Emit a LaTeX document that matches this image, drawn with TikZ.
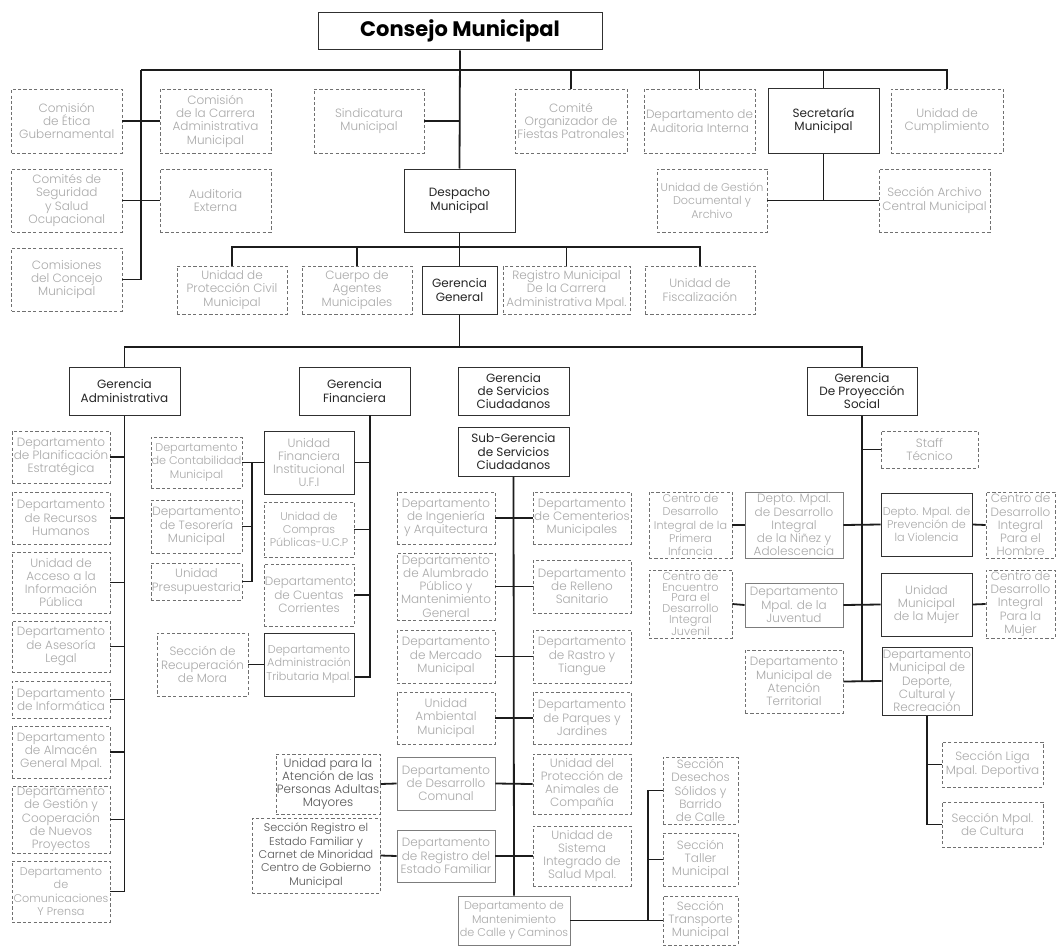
\documentclass[tikz,border=0pt]{standalone}
\usepackage{fontspec}
\setmainfont{Poppins}
\IfFontExistsTF{Poppins Light}{\newfontfamily\lightfont{Poppins Light}}{\newfontfamily\lightfont{Poppins}}
\newfontfamily\titlefont{Poppins}

\definecolor{lighttext}{HTML}{A9A9A9}
\definecolor{midtext}{HTML}{555555}
\definecolor{darktext}{HTML}{262626}
\definecolor{dashgray}{HTML}{707070}
\definecolor{boxgray}{HTML}{7C7C7C}
\definecolor{boxdark}{HTML}{303030}
\definecolor{linecol}{HTML}{1C1C1C}

\tikzset{
  nodebase/.style={inner sep=0pt, align=center, font=\lightfont\fontsize{12}{13.3}\selectfont},
  dbox/.style={nodebase, draw=dashgray, dash pattern=on 3.2pt off 2.2pt, line width=0.8pt, text=lighttext},
  dboxm/.style={dbox, text=midtext},
  sbox/.style={nodebase, draw=boxgray, line width=0.9pt, text=lighttext},
  kbox/.style={nodebase, draw=boxdark, line width=1pt, text=lighttext},
  hbox/.style={nodebase, draw=boxdark, line width=1pt, text=darktext, font=\fontsize{12}{13.3}\selectfont},
  tight/.style={font=\lightfont\fontsize{11.3}{10.6}\selectfont},
  small/.style={font=\lightfont\fontsize{11.2}{13.3}\selectfont},
  link/.style={draw=linecol, line width=1.8pt},
}

% box from its corners: style, name, x1, y1, x2, y2, text
\newcommand\bx[7]{%
  \node[#1, minimum width={#5-#3}, minimum height={#6-#4}] (#2)
    at ({(#3+#5)/2},{(#4+#6)/2}) {#7};}

\begin{document}
\begin{tikzpicture}[x=1pt, y=-1pt]
\fill[white] (0,0) rectangle (1057,947);
\useasboundingbox (0,0) rectangle (1057,947);

% ---------- council level ----------
\node[draw=boxdark, line width=1pt, inner sep=0pt, minimum width=284, minimum height=37.5,
      font=\titlefont\bfseries\fontsize{21}{24}\selectfont, text=black]
      (consejo) at (460,31.25) {Consejo Municipal};

\bx{dbox}{etica}{11.5}{89}{122}{153}{Comisión\\de Ética\\Gubernamental}
\bx{dbox}{carrera}{160}{89}{271}{153}{Comisión\\de la Carrera\\Administrativa\\Municipal}
\bx{dbox}{comites}{11.5}{169}{122}{232}{Comités de\\Seguridad\\y Salud\\Ocupacional}
\bx{dbox}{auditext}{160}{169}{271}{232}{Auditoria\\Externa}
\bx{dbox}{comisiones}{11.5}{248}{122}{311}{Comisiones\\del Concejo\\Municipal}
\bx{dbox}{sindicatura}{314}{89}{424}{153}{Sindicatura\\Municipal}
\bx{dbox}{comite}{515}{89}{627}{153}{Comité\\Organizador de\\Fiestas Patronales}
\bx{dbox}{auditint}{644}{89}{755}{153}{Departamento de\\Auditoria Interna}
\bx{hbox}{secretaria}{768}{89}{879}{153}{Secretaría\\Municipal}
\bx{dbox}{cumpl}{891}{89}{1003}{153}{Unidad de\\Cumplimiento}
\bx{dbox,small}{gestion}{657}{169}{767}{232}{Unidad de Gestión\\Documental y\\Archivo}
\bx{dbox}{archivo}{879}{169}{990}{232}{Sección Archivo\\Central Municipal}
\bx{hbox}{despacho}{404}{169}{515}{232}{Despacho\\Municipal}

\coordinate (busL) at (141,70);
\draw[link] (consejo.south) -- (despacho.north);
\draw[link] (busL) -- (cumpl.north |- busL) -- (cumpl.north);
\draw[link] (comite.north |- busL) -- (comite.north);
\draw[link] (auditint.north |- busL) -- (auditint.north);
\draw[link] (secretaria.north |- busL) -- (secretaria.north);
\draw[link] (busL) |- (comisiones.east);
\draw[link] (etica.east) -- (carrera.west);
\draw[link] (comites.east) -- (auditext.west);
\draw[link] (sindicatura.east) -- (sindicatura.east -| despacho.north);
\draw[link] (secretaria.south) -- (secretaria.south |- gestion.east);
\draw[link] (gestion.east) -- (archivo.west);

% ---------- office of the mayor ----------
\bx{dbox}{pcivil}{177}{266}{287}{314}{Unidad de\\Protección Civil\\Municipal}
\bx{dbox}{cuerpo}{302}{266}{412}{314}{Cuerpo de\\Agentes\\Municipales}
\bx{hbox}{gg}{422}{266}{497}{314}{Gerencia\\General}
\bx{dbox}{registro}{503}{266}{630}{314}{Registro Municipal\\De la Carrera\\Administrativa Mpal.}
\bx{dbox}{fiscal}{645}{266}{755}{314}{Unidad de\\Fiscalización}

\coordinate (dbus) at (459.5,247);
\draw[link] (despacho.south) -- (gg.north);
\draw[link] (pcivil.north) -- (pcivil.north |- dbus) -- (fiscal.north |- dbus) -- (fiscal.north);
\draw[link] (cuerpo.north |- dbus) -- (cuerpo.north);
\draw[link] (registro.north |- dbus) -- (registro.north);

% ---------- management level ----------
\bx{hbox}{gadmin}{69}{367}{180}{415}{Gerencia\\Administrativa}
\bx{hbox}{gfin}{299}{367}{410}{415}{Gerencia\\Financiera}
\bx{hbox}{gserv}{458}{367}{569}{415}{Gerencia\\de Servicios\\Ciudadanos}
\bx{hbox}{gproy}{807}{367}{917}{415}{Gerencia\\De Proyección\\Social}
\bx{hbox}{subg}{458}{427}{569}{476}{Sub-Gerencia\\de Servicios\\Ciudadanos}

\coordinate (gbus) at (459.5,347);
\draw[link] (gg.south) -- (gbus);
\draw[link] (gadmin.north) -- (gadmin.north |- gbus) -- (gproy.north |- gbus) -- (gproy.north);

% ---------- administrative management ----------
\bx{dbox}{a1}{12}{431}{110}{483}{Departamento\\de Planificación\\Estratégica}
\bx{dbox}{a2}{12}{492}{110}{544}{Departamento\\de Recursos\\Humanos}
\bx{dbox}{a3}{12}{552}{110}{613}{Unidad de\\Acceso a la\\Información\\Pública}
\bx{dbox}{a4}{12}{621}{110}{672}{Departamento\\de Asesoría\\Legal}
\bx{dbox}{a5}{12}{681}{110}{718}{Departamento\\de Informática}
\bx{dbox}{a6}{12}{726}{110}{778}{Departamento\\de Almacén\\General Mpal.}
\bx{dbox}{a7}{12}{786}{110}{853}{Departamento\\de Gestión y\\Cooperación\\de Nuevos\\Proyectos}
\bx{dbox,small}{a8}{12}{861}{110}{922}{Departamento\\de\\Comunicaciones\\Y Prensa}

\draw[link] (gadmin.south) |- (a8.east);
\foreach \n in {a1,a2,a3,a4,a5,a6,a7}
  \draw[link] (\n.east) -- (\n.east -| gadmin.south);

% ---------- financial management ----------
\bx{kbox}{ufi}{264}{431}{354}{494}{Unidad\\Financiera\\Institucional\\U.F.I}
\bx{dbox,small}{ucp}{264}{502}{354}{557}{Unidad de\\Compras\\Públicas-U.C.P}
\bx{dbox}{cuentas}{264}{564}{354}{626}{Departamento\\de Cuentas\\Corrientes}
\bx{kbox,small}{tribut}{264}{633}{354}{696}{Departamento\\Administración\\Tributaria Mpal.}
\bx{dbox,small}{contab}{151}{437}{242}{488}{Departamento\\de Contabilidad\\Municipal}
\bx{dbox}{tesor}{151}{500}{242}{553}{Departamento\\de Tesorería\\Municipal}
\bx{dbox}{presup}{151}{563}{242}{600}{Unidad\\Presupuestaria}
\bx{dbox}{mora}{157}{633}{248}{696}{Sección de\\Recuperación\\de Mora}

\coordinate (ftop) at (370,415);
\coordinate (cspine) at (252,463);
\draw[link] (ftop) |- ([yshift=-12.5pt]tribut.east);
\foreach \n in {ufi,ucp,cuentas}
  \draw[link] (\n.east) -- (\n.east -| ftop);
\draw[link] (contab.east) -- (ufi.west);
\draw[link] (cspine) |- (presup.east);
\draw[link] (tesor.east) -- (tesor.east -| cspine);
\draw[link] (mora.east) -- (tribut.west);

% ---------- citizen services ----------
\bx{dbox}{s1L}{397}{492}{495}{544}{Departamento\\de Ingeniería\\y Arquitectura}
\bx{dbox}{s1R}{533}{492}{631}{544}{Departamento\\de Cementerios\\Municipales}
\bx{dbox}{s2L}{397}{553}{495}{620}{Departamento\\de Alumbrado\\Público y\\Mantenimiento\\General}
\bx{dbox}{s2R}{533}{560}{631}{613}{Departamento\\de Relleno\\Sanitario}
\bx{dbox}{s3L}{397}{630}{495}{683}{Departamento\\de Mercado\\Municipal}
\bx{dbox}{s3R}{533}{630}{631}{683}{Departamento\\de Rastro y\\Tiangue}
\bx{dbox}{s4L}{397}{692}{495}{744}{Unidad\\Ambiental\\Municipal}
\bx{dbox}{s4R}{533}{692}{631}{744}{Departamento\\de Parques y\\Jardines}
\bx{sbox}{s5L}{397}{757}{495}{810}{Departamento\\de Desarrollo\\Comunal}
\bx{dbox}{s5R}{533}{754}{631}{814}{Unidad del\\Protección de\\Animales de\\Compañía}
\bx{sbox}{s6L}{397}{830}{495}{882}{Departamento\\de Registro del\\Estado Familiar}
\bx{dbox}{s6R}{533}{826}{631}{886}{Unidad de\\Sistema\\Integrado de\\Salud Mpal.}
\bx{sbox,small}{mant}{458}{896}{570}{945}{Departamento de\\Mantenimiento\\de Calle y Caminos}
\bx{dboxm}{u1}{276}{754}{380}{814}{Unidad para la\\Atención de las\\Personas Adultas\\Mayores}
\bx{dboxm,small}{u2}{252}{818}{380}{893}{Sección Registro el\\Estado Familiar y\\Carnet de Minoridad\\Centro de Gobierno\\Municipal}
\bx{dbox}{d1}{663}{757}{738}{824}{Sección\\Desechos\\Sólidos y\\Barrido\\de Calle}
\bx{dbox}{d2}{663}{833}{738}{886}{Sección\\Taller\\Municipal}
\bx{dbox}{d3}{663}{896}{738}{945}{Sección\\Transporte\\Municipal}

\draw[link] (subg.south) -- (mant.north);
\foreach \n in {1,...,6}
  \draw[link] (s\n L.east) -- (s\n R.west);
\draw[link] (u1.east) -- (s5L.west);
\draw[link] (u2.east) -- (s6L.west);
\coordinate (mj) at (648,921);
\draw[link] (mant.east) -- (d3.west);
\draw[link] (d1.west) -| (mj);
\draw[link] (d2.west) -- (d2.west -| mj);

% ---------- social projection ----------
\bx{dbox}{staff}{881}{431}{978}{468}{Staff\\Técnico}
\bx{sbox}{p1L}{745}{492}{843}{558}{Depto. Mpal.\\de Desarrollo\\Integral\\de la Niñez y\\Adolescencia}
\bx{kbox,small}{p1R}{881}{493}{972}{556}{Depto. Mpal. de\\Prevención de\\la Violencia}
\bx{dbox,small}{c1L}{649}{492}{732}{558}{Centro de\\Desarrollo\\Integral de la\\Primera\\Infancia}
\bx{dbox}{c1R}{986}{492}{1055}{558}{Centro de\\Desarrollo\\Integral\\Para el\\Hombre}
\bx{sbox}{p2L}{745}{583}{843}{627}{Departamento\\Mpal. de la\\Juventud}
\bx{kbox}{p2R}{881}{573}{972}{636}{Unidad\\Municipal\\de la Mujer}
\bx{dbox,tight}{c2L}{649}{570}{732}{638}{Centro de\\Encuentro\\Para el\\Desarrollo\\Integral\\Juvenil}
\bx{dbox}{c2R}{986}{570}{1055}{638}{Centro de\\Desarrollo\\Integral\\Para la\\Mujer}
\bx{dbox}{p3L}{745}{650}{843}{713}{Departamento\\Municipal de\\Atención\\Territorial}
\bx{kbox}{p3R}{882}{647}{972}{715}{Departamento\\Municipal de\\Deporte,\\Cultural y\\Recreación}
\bx{dbox}{liga}{942}{742}{1043}{787}{Sección Liga\\Mpal. Deportiva}
\bx{dbox}{cultura}{942}{802}{1043}{847}{Sección Mpal.\\de Cultura}

\draw[link] (gproy.south) -- (gproy.south |- p3R.west);
\draw[link] (staff.west) -- (staff.west -| gproy.south);
\foreach \n in {1,2,3}
  \draw[link] (p\n L.east) -- (p\n R.west);
\foreach \n in {1,2} {
  \draw[link] (c\n L.east) -- (p\n L.west);
  \draw[link] (p\n R.east) -- (c\n R.west);
}
\draw[link] (p3R.south) |- (cultura.west);
\draw[link] (liga.west) -- (liga.west -| p3R.south);
\end{tikzpicture}
\end{document}
